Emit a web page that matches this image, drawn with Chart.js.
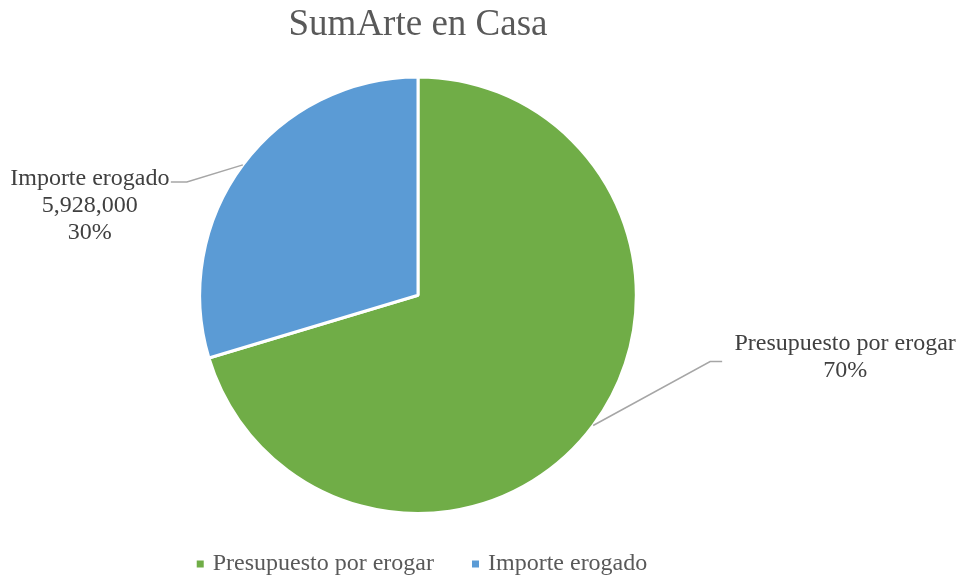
<!DOCTYPE html>
<html>
<head>
<meta charset="utf-8">
<script src="https://cdn.jsdelivr.net/npm/chart.js@4.4.1/dist/chart.umd.min.js"></script>
<style>
  html, body { margin: 0; padding: 0; background: #ffffff; }
  #wrap { position: relative; width: 960px; height: 577px; }
</style>
</head>
<body>
<div id="wrap"><canvas id="c" width="960" height="577"></canvas></div>
<script>
const chartTitle = "SumArte en Casa";
const categories = ["Presupuesto por erogar", "Importe erogado"];
const values = [14072000, 5928000];
const showValue = [false, true];
const colors = ["#70AD47", "#5B9BD5"];

const SERIF = '"Liberation Serif", "Times New Roman", serif';

// label leader layout (relative to slice edge point)
const labelLayout = [
  { elbow: [117, -64], tail: 12, text: [123, -18] },
  { elbow: [-56, 17], tail: -16, text: [-81, -3] }
];

const labelPlugin = {
  id: 'pieLabels',
  afterDraw(chart) {
    const ctx = chart.ctx;
    const meta = chart.getDatasetMeta(0);
    const ds = chart.data.datasets[0];
    const data = ds.data;
    const total = data.reduce((a, b) => a + b, 0);
    ctx.save();
    meta.data.forEach((arc, i) => {
      const p = arc.getProps(['x', 'y', 'startAngle', 'endAngle', 'outerRadius'], true);
      const mid = (p.startAngle + p.endAngle) / 2;
      const ex = p.x + Math.cos(mid) * p.outerRadius;
      const ey = p.y + Math.sin(mid) * p.outerRadius;
      const L = labelLayout[i];
      const bx = ex + L.elbow[0], by = ey + L.elbow[1];
      const tx = bx + L.tail;
      ctx.strokeStyle = '#A6A6A6';
      ctx.lineWidth = 1.5;
      ctx.beginPath();
      ctx.moveTo(ex, ey);
      ctx.lineTo(bx, by);
      ctx.lineTo(tx, by);
      ctx.stroke();
      const lines = [chart.data.labels[i]];
      if (showValue[i]) lines.push(data[i].toLocaleString('en-US'));
      lines.push(Math.round(data[i] / total * 100) + '%');
      ctx.fillStyle = '#404040';
      ctx.font = '24px ' + SERIF;
      ctx.textAlign = 'center';
      ctx.textBaseline = 'middle';
      const cx = tx + L.text[0];
      const cy = by + L.text[1];
      lines.forEach((t, k) => ctx.fillText(t, cx, cy + k * 27));
    });

    // legend
    ctx.font = '24px ' + SERIF;
    ctx.textAlign = 'left';
    ctx.textBaseline = 'middle';
    const box = 7, boxGap = 9, itemGap = 38;
    const widths = chart.data.labels.map(t => box + boxGap + ctx.measureText(t).width);
    const totalW = widths.reduce((a, b) => a + b, 0) + itemGap * (widths.length - 1);
    const ca = chart.chartArea;
    let x = (ca.left + ca.right) / 2 + 4 - totalW / 2;
    const y = 564;
    chart.data.labels.forEach((t, i) => {
      ctx.fillStyle = ds.backgroundColor[i];
      ctx.fillRect(x, y - box / 2, box, box);
      ctx.fillStyle = '#595959';
      ctx.fillText(t, x + box + boxGap, y);
      x += widths[i] + itemGap;
    });
    ctx.restore();
  }
};

new Chart(document.getElementById('c'), {
  type: 'pie',
  data: {
    labels: categories,
    datasets: [{
      data: values,
      backgroundColor: colors,
      borderColor: '#ffffff',
      borderWidth: 3,
      hoverOffset: 0
    }]
  },
  options: {
    responsive: false,
    animation: false,
    events: [],
    layout: { padding: { top: 0, left: 0, right: 124, bottom: 62 } },
    plugins: {
      title: {
        display: true,
        text: chartTitle,
        color: '#595959',
        font: { family: SERIF, size: 37, weight: 'normal' },
        padding: { top: 3, bottom: 28 }
      },
      legend: { display: false },
      tooltip: { enabled: false }
    }
  },
  plugins: [labelPlugin]
});
</script>
</body>
</html>
